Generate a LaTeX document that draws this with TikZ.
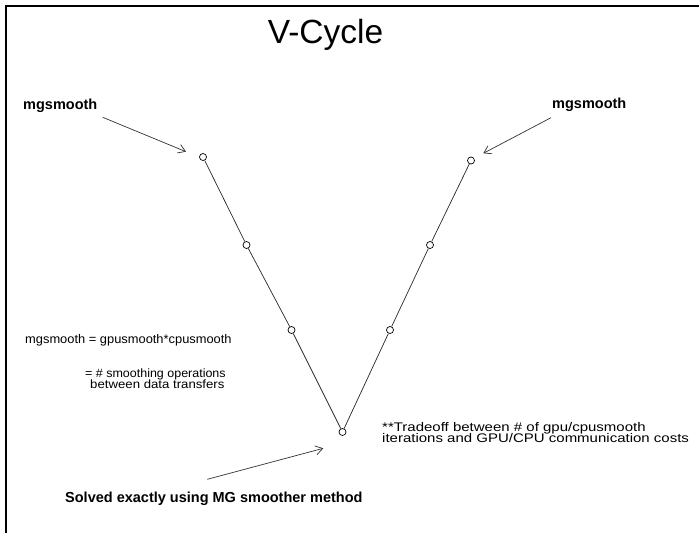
\documentclass[tikz,border=0pt]{standalone}
\usepackage{fontspec}
\setmainfont{Liberation Sans}
\usetikzlibrary{arrows.meta}
\tikzset{
  dot/.style={circle,draw,line width=0.7pt,minimum size=7pt,inner sep=0pt,fill=white},
  vline/.style={line width=0.7pt,draw=black!85},
  callout/.style={line width=0.7pt,draw=black!80,-{Straight Barb[length=7pt,width=9pt,line width=0.7pt]}},
  txt/.style={inner sep=0pt,anchor=base west},
}
\begin{document}
\begin{tikzpicture}[x=1pt,y=-1pt]
\useasboundingbox (0,0) rectangle (699,533);
\fill[white] (0,0) rectangle (699,533);
\draw[line width=1.4pt] (6,533) -- (6,6) -- (699,6);
% title
\node[inner sep=0pt,anchor=base] (title) at (325.5,43) {\fontsize{33.5}{36}\selectfont V-Cycle};
% V nodes
\node[dot] (a1) at (203,157) {};
\node[dot] (a2) at (246.5,245) {};
\node[dot] (a3) at (291.5,330) {};
\node[dot] (b) at (342.5,432) {};
\node[dot] (c3) at (390,330) {};
\node[dot] (c2) at (430,245) {};
\node[dot] (c1) at (471,160.5) {};
\draw[vline] (a1) -- (a2) -- (a3) -- (b) -- (c3) -- (c2) -- (c1);
% labels
\node[txt] (ml) at (23,109) {\fontsize{14.5}{16}\selectfont\bfseries mgsmooth};
\node[txt] (mr) at (552,108) {\fontsize{14.5}{16}\selectfont\bfseries mgsmooth};
\node[txt] (eq1) at (25,343) {\scalebox{1.03}[1]{\fontsize{12.5}{14}\selectfont mgsmooth = gpusmooth*cpusmooth}};
\node[txt] (eq2) at (85,377.5) {\scalebox{1.04}[1]{\fontsize{12}{14}\selectfont = \# smoothing operations}};
\node[txt] (eq3) at (90,388.5) {\scalebox{1.1}[1]{\fontsize{12}{14}\selectfont between data transfers}};
\node[txt] (tr1) at (382,431.5) {\scalebox{1.2}[1]{\fontsize{12.5}{14}\selectfont **Tradeoff between \# of gpu/cpusmooth}};
\node[txt] (tr2) at (382,442.5) {\scalebox{1.2}[1]{\fontsize{12.5}{14}\selectfont iterations and GPU/CPU communication costs}};
\node[txt] (sol) at (65,502) {\fontsize{14.5}{16}\selectfont\bfseries Solved exactly using MG smoother method};
% callout arrows
\coordinate (la0) at (102.7,117.3);
\coordinate (la1) at (186,151.7);
\coordinate (ra0) at (551,117.7);
\coordinate (ra1) at (483.3,153.3);
\coordinate (ba0) at (207.3,479.3);
\coordinate (ba1) at (323.3,448.3);
\draw[callout] (la0) -- (la1);
\draw[callout] (ra0) -- (ra1);
\draw[callout] (ba0) -- (ba1);
\end{tikzpicture}
\end{document}
